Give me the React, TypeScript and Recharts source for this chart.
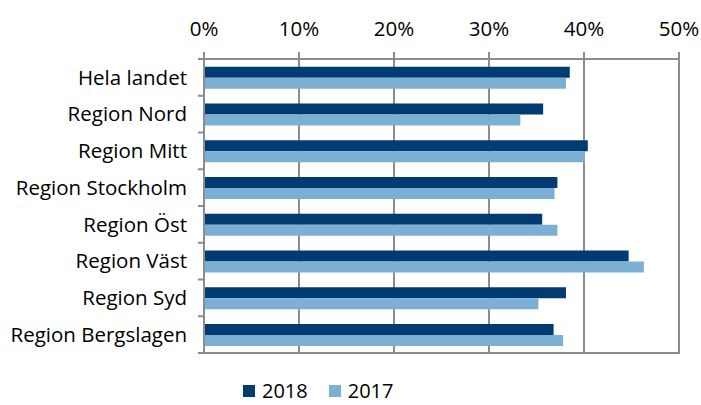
import React from 'react';
import { BarChart, Bar, XAxis, YAxis, CartesianGrid, ReferenceArea } from 'recharts';

const regions = [
  'Hela landet',
  'Region Nord',
  'Region Mitt',
  'Region Stockholm',
  'Region Öst',
  'Region Väst',
  'Region Syd',
  'Region Bergslagen',
];
const values2018 = [38.5, 35.7, 40.4, 37.2, 35.6, 44.7, 38.1, 36.8];
const values2017 = [38.1, 33.3, 40.1, 36.9, 37.2, 46.3, 35.2, 37.8];
const xTicks = [0, 10, 20, 30, 40, 50];

const DARK = '#003B71';
const LIGHT = '#7BAFD4';
const GRID = '#8C8C8C';
const FONT = '"Open Sans", sans-serif';
const FS = 20.5;

const W = 701;
const H = 405;
const TOP = 59;
const BOTTOM = 52;
const LEFT = 204;
const RIGHT = 22;
const band = (H - TOP - BOTTOM) / regions.length;

const data = regions.map((name, i) => ({ name, y2018: values2018[i], y2017: values2017[i] }));

// category labels + tick marks between categories, like the excel original
const RegionTick = (props: any) => {
  const { y, payload, index } = props;
  const axisX = LEFT;
  return (
    <g>
      <line x1={axisX - 6} x2={axisX} y1={y - band / 2} y2={y - band / 2} stroke={GRID} strokeWidth={2} />
      {index === regions.length - 1 && (
        <line x1={axisX - 6} x2={axisX} y1={y + band / 2} y2={y + band / 2} stroke={GRID} strokeWidth={2} />
      )}
      <text x={axisX - 17} y={y} dy="0.35em" textAnchor="end" fontFamily={FONT} fontSize={FS} fill="#000">
        {payload.value}
      </text>
    </g>
  );
};

export default function App() {
  return (
    <div style={{ position: 'absolute', left: 0, top: 0, width: W, height: H, background: '#fff', overflow: 'hidden' }}>
      <BarChart
        width={W}
        height={H}
        data={data}
        layout="vertical"
        margin={{ top: 0, right: RIGHT, bottom: BOTTOM, left: 0 }}
        barCategoryGap="21%"
        barGap={0}
      >
        <CartesianGrid horizontal={false} stroke={GRID} strokeWidth={2} />
        <ReferenceArea x1={0} x2={50} fill="none" stroke={GRID} strokeWidth={2} ifOverflow="visible" />
        <XAxis
          type="number"
          orientation="top"
          domain={[0, 50]}
          ticks={xTicks}
          height={TOP}
          tickFormatter={(v: number) => `${v}%`}
          tick={{ fontFamily: FONT, fontSize: FS, fill: '#000' }}
          tickSize={7}
          tickMargin={16}
          axisLine={{ stroke: GRID, strokeWidth: 2 }}
          tickLine={{ stroke: GRID, strokeWidth: 2 }}
          interval={0}
        />
        <YAxis
          type="category"
          dataKey="name"
          width={LEFT}
          axisLine={{ stroke: GRID, strokeWidth: 2 }}
          tickLine={false}
          tick={<RegionTick />}
          interval={0}
        />
        <Bar dataKey="y2018" name="2018" fill={DARK} isAnimationActive={false} />
        <Bar dataKey="y2017" name="2017" fill={LIGHT} isAnimationActive={false} />
      </BarChart>
      <div
        style={{
          position: 'absolute',
          left: 243,
          top: 381,
          height: 20,
          display: 'flex',
          alignItems: 'center',
          fontFamily: FONT,
          fontSize: 20,
          lineHeight: '20px',
          color: '#000',
        }}
      >
        <span style={{ width: 12, height: 12, background: DARK, display: 'inline-block', marginRight: 7 }} />
        <span style={{ marginRight: 21 }}>2018</span>
        <span style={{ width: 12, height: 12, background: LIGHT, display: 'inline-block', marginRight: 7 }} />
        <span>2017</span>
      </div>
    </div>
  );
}
